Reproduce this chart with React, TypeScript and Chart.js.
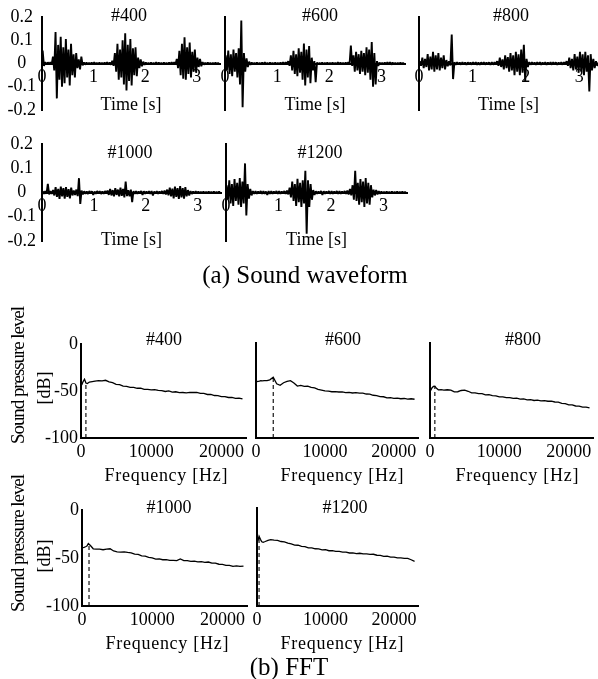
import React, { useEffect, useRef } from 'react';
import { Chart, registerables } from 'chart.js';

Chart.register(...registerables);

const FONT = "'Liberation Serif', 'Times New Roman', serif";

// ---------- Sound waveform data (envelope per 0.05 s bin: upper / lower) ----------
const timeBins = [
  0.025, 0.075, 0.125, 0.175, 0.225, 0.275, 0.325, 0.375, 0.425, 0.475,
  0.525, 0.575, 0.625, 0.675, 0.725, 0.775, 0.825, 0.875, 0.925, 0.975,
  1.025, 1.075, 1.125, 1.175, 1.225, 1.275, 1.325, 1.375, 1.425, 1.475,
  1.525, 1.575, 1.625, 1.675, 1.725, 1.775, 1.825, 1.875, 1.925, 1.975,
  2.025, 2.075, 2.125, 2.175, 2.225, 2.275, 2.325, 2.375, 2.425, 2.475,
  2.525, 2.575, 2.625, 2.675, 2.725, 2.775, 2.825, 2.875, 2.925, 2.975,
  3.025, 3.075, 3.125, 3.175, 3.225, 3.275, 3.325, 3.375, 3.425,
];

const wave400Hi = [
  0.056, 0.006, 0.005, 0.006, 0.03, 0.135, 0.08, 0.115, 0.07, 0.105,
  0.06, 0.085, 0.04, 0.045, 0.018, 0.03, 0.005, 0.004, 0.003, 0.004,
  0.005, 0.003, 0.004, 0.003, 0.004, 0.005, 0.004, 0.012, 0.045, 0.085,
  0.06, 0.1, 0.13, 0.08, 0.105, 0.065, 0.07, 0.025, 0.018, 0.008,
  0.004, 0.003, 0.004, 0.003, 0.005, 0.004, 0.003, 0.004, 0.003, 0.004,
  0.005, 0.006, 0.02, 0.055, 0.085, 0.113, 0.07, 0.09, 0.05, 0.06,
  0.025, 0.02, 0.006, 0.003, 0.004, 0.003, 0.003, 0.004, 0.003,
];
const wave400Lo = [
  -0.01, -0.005, -0.004, -0.005, -0.03, -0.15, -0.07, -0.1, -0.085, -0.06,
  -0.095, -0.05, -0.06, -0.02, -0.025, -0.008, -0.005, -0.004, -0.003, -0.004,
  -0.003, -0.004, -0.003, -0.004, -0.003, -0.004, -0.005, -0.01, -0.035, -0.07,
  -0.06, -0.09, -0.116, -0.075, -0.095, -0.05, -0.055, -0.02, -0.012, -0.006,
  -0.004, -0.003, -0.004, -0.003, -0.004, -0.003, -0.004, -0.003, -0.004, -0.003,
  -0.004, -0.005, -0.02, -0.05, -0.065, -0.07, -0.045, -0.06, -0.035, -0.04,
  -0.015, -0.012, -0.005, -0.003, -0.003, -0.004, -0.003, -0.003, -0.003,
];

const wave600Hi = [
  0.035, 0.056, 0.04, 0.06, 0.045, 0.065, 0.185, 0.045, 0.022, 0.008,
  0.004, 0.003, 0.004, 0.003, 0.004, 0.005, 0.003, 0.004, 0.003, 0.004,
  0.003, 0.004, 0.005, 0.006, 0.01, 0.035, 0.055, 0.04, 0.065, 0.05,
  0.086, 0.06, 0.075, 0.025, 0.01, 0.004, 0.003, 0.004, 0.003, 0.004,
  0.003, 0.004, 0.003, 0.005, 0.004, 0.003, 0.004, 0.005, 0.077, 0.035,
  0.05, 0.04, 0.055, 0.045, 0.07, 0.06, 0.092, 0.045, 0.01, 0.004,
  0.003, 0.004, 0.006, 0.006, 0.004, 0.003, 0.003, 0.004, 0.003,
];
const wave600Lo = [
  -0.03, -0.045, -0.055, -0.035, -0.06, -0.09, -0.188, -0.035, -0.015, -0.006,
  -0.004, -0.003, -0.004, -0.003, -0.004, -0.003, -0.004, -0.003, -0.004, -0.003,
  -0.004, -0.003, -0.004, -0.005, -0.01, -0.03, -0.045, -0.055, -0.04, -0.07,
  -0.095, -0.06, -0.085, -0.03, -0.08, -0.004, -0.003, -0.004, -0.003, -0.004,
  -0.003, -0.004, -0.003, -0.004, -0.003, -0.004, -0.003, -0.004, -0.01, -0.035,
  -0.03, -0.045, -0.035, -0.05, -0.04, -0.07, -0.1, -0.09, -0.01, -0.004,
  -0.003, -0.004, -0.005, -0.005, -0.004, -0.003, -0.003, -0.003, -0.003,
];

const wave800Hi = [
  0.01, 0.025, 0.02, 0.04, 0.03, 0.05, 0.035, 0.045, 0.025, 0.035,
  0.015, 0.01, 0.125, 0.005, 0.005, 0.004, 0.006, 0.004, 0.005, 0.004,
  0.006, 0.005, 0.004, 0.005, 0.006, 0.004, 0.005, 0.006, 0.005, 0.01,
  0.025, 0.018, 0.035, 0.028, 0.045, 0.035, 0.05, 0.04, 0.06, 0.08,
  0.02, 0.006, 0.005, 0.004, 0.005, 0.006, 0.004, 0.005, 0.004, 0.005,
  0.006, 0.005, 0.004, 0.005, 0.006, 0.01, 0.025, 0.02, 0.04, 0.03,
  0.05, 0.04, 0.05, 0.035, 0.04, 0.02, 0.01, 0.004, 0.004,
];
const wave800Lo = [
  -0.01, -0.02, -0.015, -0.03, -0.025, -0.035, -0.025, -0.03, -0.02, -0.025,
  -0.012, -0.008, -0.067, -0.005, -0.004, -0.005, -0.004, -0.006, -0.004, -0.005,
  -0.004, -0.005, -0.006, -0.004, -0.005, -0.004, -0.006, -0.005, -0.004, -0.01,
  -0.015, -0.025, -0.02, -0.035, -0.03, -0.05, -0.035, -0.05, -0.04, -0.075,
  -0.015, -0.005, -0.004, -0.005, -0.004, -0.006, -0.004, -0.005, -0.004, -0.005,
  -0.004, -0.006, -0.004, -0.005, -0.004, -0.01, -0.02, -0.03, -0.025, -0.04,
  -0.035, -0.05, -0.035, -0.12, -0.03, -0.02, -0.01, -0.004, -0.004,
];

const wave1000Hi = [
  0.005, 0.006, 0.036, 0.006, 0.01, 0.022, 0.015, 0.024, 0.018, 0.022,
  0.014, 0.02, 0.008, 0.012, 0.059, 0.008, 0.005, 0.004, 0.006, 0.005,
  0.004, 0.006, 0.005, 0.004, 0.006, 0.008, 0.015, 0.01, 0.018, 0.012,
  0.02, 0.015, 0.045, 0.01, 0.012, 0.006, 0.005, 0.004, 0.006, 0.005,
  0.004, 0.005, 0.006, 0.004, 0.005, 0.004, 0.006, 0.008, 0.012, 0.02,
  0.016, 0.024, 0.018, 0.026, 0.018, 0.022, 0.01, 0.006, 0.004, 0.005,
  0.004, 0.003, 0.004, 0.003, 0.004, 0.003, 0.004, 0.003, 0.004,
];
const wave1000Lo = [
  -0.005, -0.005, -0.008, -0.006, -0.012, -0.018, -0.026, -0.016, -0.025, -0.018,
  -0.024, -0.012, -0.01, -0.015, -0.047, -0.008, -0.005, -0.006, -0.004, -0.01,
  -0.005, -0.004, -0.006, -0.005, -0.004, -0.01, -0.012, -0.016, -0.01, -0.016,
  -0.014, -0.02, -0.015, -0.016, -0.04, -0.006, -0.005, -0.004, -0.01, -0.005,
  -0.004, -0.005, -0.012, -0.004, -0.005, -0.004, -0.006, -0.008, -0.012, -0.016,
  -0.024, -0.018, -0.026, -0.02, -0.025, -0.016, -0.012, -0.006, -0.004, -0.004,
  -0.003, -0.003, -0.004, -0.003, -0.003, -0.003, -0.004, -0.003, -0.003,
];

const wave1200Hi = [
  0.03, 0.05, 0.035, 0.055, 0.04, 0.06, 0.045, 0.12, 0.035, 0.015,
  0.006, 0.005, 0.004, 0.006, 0.005, 0.004, 0.006, 0.005, 0.004, 0.006,
  0.005, 0.004, 0.006, 0.008, 0.02, 0.045, 0.035, 0.056, 0.04, 0.05,
  0.09, 0.05, 0.035, 0.01, 0.005, 0.004, 0.006, 0.005, 0.004, 0.006,
  0.005, 0.004, 0.006, 0.005, 0.004, 0.006, 0.008, 0.015, 0.03, 0.09,
  0.04, 0.055, 0.045, 0.06, 0.04, 0.03, 0.012, 0.01, 0.006, 0.004,
  0.003, 0.004, 0.003, 0.004, 0.003, 0.004, 0.003, 0.004, 0.003,
];
const wave1200Lo = [
  -0.03, -0.045, -0.055, -0.035, -0.05, -0.06, -0.045, -0.095, -0.025, -0.012,
  -0.006, -0.005, -0.004, -0.006, -0.005, -0.01, -0.006, -0.005, -0.004, -0.006,
  -0.005, -0.004, -0.006, -0.008, -0.02, -0.035, -0.055, -0.04, -0.06, -0.045,
  -0.17, -0.06, -0.03, -0.01, -0.005, -0.004, -0.01, -0.005, -0.004, -0.006,
  -0.005, -0.004, -0.006, -0.005, -0.004, -0.006, -0.008, -0.012, -0.03, -0.035,
  -0.05, -0.04, -0.06, -0.045, -0.05, -0.02, -0.012, -0.008, -0.005, -0.004,
  -0.003, -0.003, -0.003, -0.004, -0.003, -0.003, -0.003, -0.004, -0.003,
];

const waveXTicks = [0, 1, 2, 3];
const waveYTicks = [-0.2, -0.1, 0, 0.1, 0.2];

// ---------- FFT data ----------
const freqs = [
  100, 300, 500, 700, 900, 1200, 1600, 2000, 2500, 3000,
  3500, 4000, 4500, 5000, 5500, 6000, 6500, 7000, 7500, 8000,
  8500, 9000, 9500, 10000, 10500, 11000, 11500, 12000, 12500, 13000,
  13500, 14000, 14500, 15000, 15500, 16000, 16500, 17000, 17500, 18000,
  18500, 19000, 19500, 20000, 20500, 21000, 21500, 22000, 22500, 23000,
];

const fft400 = [
  -43.5, -40, -37.5, -41.5, -42, -40.5, -40, -39.5, -39, -39.3,
  -38.6, -40.3, -41.2, -42.9, -43.2, -44.9, -45.1, -46.2, -46.2, -47.1,
  -46.9, -48.3, -48.2, -48.8, -48.5, -49.4, -49.6, -50.5, -49.9, -51.1,
  -50.8, -51.8, -51.6, -51.9, -51.4, -51.6, -51.5, -52.6, -52.6, -53.7,
  -53.6, -54.8, -55, -55.9, -56, -56.9, -56.8, -57.8, -57.6, -58.5,
];
const fft600 = [
  -40.7, -40.3, -40.2, -39.6, -39.9, -39.6, -39.5, -38.8, -36, -43,
  -44.5, -41.8, -40.5, -39.6, -42, -45.3, -44.7, -45.6, -45.4, -46.8,
  -47.3, -48.8, -49.5, -50.5, -50.6, -51.3, -51.2, -51.6, -51.5, -52.2,
  -51.9, -52.6, -52.3, -52.8, -52.8, -53.7, -53.8, -55, -55.3, -56.5,
  -56.6, -57.8, -57.6, -58.2, -58.1, -58.7, -58.4, -59, -58.7, -59.2,
];
const fft800 = [
  -50, -47, -45.7, -45.5, -47.5, -49.3, -49.1, -49.7, -49.2, -49.7,
  -51.5, -51.3, -50, -49.7, -50.8, -52.5, -52.4, -53.3, -53.3, -54.6,
  -54.4, -55.3, -55.6, -56.8, -56.7, -57.6, -57.5, -58.3, -58.1, -59,
  -58.8, -59.8, -59.6, -60.5, -60.2, -60.9, -60.6, -61.3, -61.2, -62.1,
  -62.3, -63.5, -63.8, -65.1, -65.1, -66.3, -66.4, -67.5, -67.4, -68.2,
];
const fft1000 = [
  -39.3, -39, -38.3, -37.5, -35, -37, -40.4, -40.8, -40.8, -41.4,
  -40.8, -40.4, -42.7, -43.6, -43.8, -43.7, -44.2, -44.6, -46, -46.3,
  -47.7, -48.1, -49.3, -49.8, -51.1, -51, -51.8, -51.6, -52.5, -52.4,
  -52.7, -51, -52.8, -52.8, -53.6, -53.3, -54.1, -53.8, -54.5, -54.2,
  -55.3, -55.4, -56.5, -56.6, -57.6, -57.6, -58.8, -58.3, -58.8, -58.5,
];
const fft1200 = [
  -34, -28.8, -32, -34.5, -35, -34.2, -33, -32.3, -32.7, -33,
  -34.2, -34.6, -35.9, -36.6, -37.8, -38, -39.1, -39.4, -40.7, -40.6,
  -41.6, -41.8, -42.7, -42.6, -43.6, -43.4, -44.3, -44.3, -45, -45,
  -45.9, -45.7, -46.5, -46.2, -46.9, -46.8, -47.4, -47.2, -48.2, -48.3,
  -49.3, -49.2, -50.1, -50.1, -50.9, -50.8, -51.5, -51.4, -52.8, -54.4,
];

// peak frequency (dashed marker) and its level, per sample: #400, #600, #800, #1000, #1200
const peakFreq = [700, 2500, 700, 1000, 300];
const peakLevel = [-41.5, -36.5, -45.5, -36, -29];

const fftXTicks = [0, 10000, 20000];
const fftYTicks = [-100, -50, 0];

// ---------- chart builders ----------
type Area = { l: number; t: number; r: number; b: number };
type Box = { left: number; top: number; width: number; height: number; config: any };

const tickFont = { family: FONT, size: 18 };
const HALF_BIN = 0.0125;

function waveBox(area: Area, hi: number[], lo: number[], tMax: number, showY: boolean, titleGap: number): Box {
  const padT = 20, padR = 10, padB = 20;
  const yW = showY ? area.l : 10;
  const left = area.l - yW;
  const top = area.t - padT;
  const width = yW + (area.r - area.l) + padR;
  const height = padT + (area.b - area.t) + padB;
  // each bin drawn as an up/down stroke: its upper peak, then its lower peak
  const pts: { x: number; y: number }[] = [];
  timeBins.forEach((t, i) => {
    pts.push({ x: t - HALF_BIN, y: hi[i] });
    pts.push({ x: t + HALF_BIN, y: lo[i] });
  });
  const config = {
    type: 'line',
    data: {
      datasets: [
        {
          data: pts,
          borderColor: '#000',
          borderWidth: 1.9,
          borderJoinStyle: 'bevel',
          pointRadius: 0,
          tension: 0,
        },
      ],
    },
    options: {
      animation: false,
      responsive: false,
      devicePixelRatio: 1,
      layout: { padding: { left: 0, top: padT, right: padR, bottom: padB } },
      plugins: { legend: { display: false }, tooltip: { enabled: false } },
      scales: {
        x: {
          type: 'linear',
          position: { y: 0 },
          min: 0,
          max: tMax,
          offset: false,
          grid: { display: false, drawTicks: false, offset: false },
          border: { display: true, color: '#000', width: 2 },
          afterBuildTicks: (s: any) => { s.ticks = waveXTicks.map((v) => ({ value: v })); },
          ticks: { font: tickFont, color: '#000', padding: 3, maxRotation: 0, autoSkip: false, callback: (v: any) => String(v) },
          title: { display: true, text: 'Time [s]', font: tickFont, color: '#000', padding: 0 },
          afterFit: (s: any) => { s.height = titleGap + 10.8; },
        },
        y: {
          type: 'linear',
          min: -0.2,
          max: 0.2,
          grid: { display: false, drawTicks: false },
          border: { display: true, color: '#000', width: 2 },
          afterBuildTicks: (s: any) => { s.ticks = waveYTicks.map((v) => ({ value: v })); },
          ticks: { display: showY, autoSkip: false, font: tickFont, color: '#000', padding: 6, crossAlign: 'center', callback: (v: any) => String(v) },
          afterFit: (s: any) => { s.width = yW; },
        },
      },
    },
  };
  return { left, top, width, height, config };
}

function fftBox(area: Area, values: number[], idx: number, showY: boolean): Box {
  const padT = 20, padR = 10, padB = 4, xH = 50;
  const yW = showY ? 45 : 10;
  const left = area.l - yW;
  const top = area.t - padT;
  const width = yW + (area.r - area.l) + padR;
  const height = padT + (area.b - area.t) + xH + padB;
  const config = {
    type: 'line',
    data: {
      datasets: [
        {
          data: freqs.map((f, i) => ({ x: f, y: values[i] })),
          borderColor: '#000',
          borderWidth: 1.3,
          pointRadius: 0,
          tension: 0,
        },
        {
          data: [
            { x: peakFreq[idx], y: -100 },
            { x: peakFreq[idx], y: peakLevel[idx] },
          ],
          borderColor: '#000',
          borderWidth: 1.1,
          borderDash: [4, 3],
          pointRadius: 0,
        },
      ],
    },
    options: {
      animation: false,
      responsive: false,
      devicePixelRatio: 1,
      layout: { padding: { left: 0, top: padT, right: padR, bottom: padB } },
      plugins: { legend: { display: false }, tooltip: { enabled: false } },
      scales: {
        x: {
          type: 'linear',
          min: 0,
          max: 23500,
          grid: { display: false, drawTicks: false },
          border: { display: true, color: '#000', width: 2 },
          afterBuildTicks: (s: any) => { s.ticks = fftXTicks.map((v) => ({ value: v })); },
          ticks: { font: tickFont, color: '#000', padding: 3, maxRotation: 0, autoSkip: false, callback: (v: any) => String(v) },
          afterFit: (s: any) => { s.height = xH; },
        },
        y: {
          type: 'linear',
          min: -100,
          max: 0,
          grid: { display: false, drawTicks: false },
          border: { display: true, color: '#000', width: 2 },
          afterBuildTicks: (s: any) => { s.ticks = fftYTicks.map((v) => ({ value: v })); },
          ticks: { display: showY, autoSkip: false, font: tickFont, color: '#000', padding: 3, callback: (v: any) => String(v) },
          afterFit: (s: any) => { s.width = yW; },
        },
      },
    },
  };
  return { left, top, width, height, config };
}

function ChartCanvas({ box }: { box: Box }) {
  const ref = useRef<HTMLCanvasElement>(null);
  useEffect(() => {
    if (!ref.current) return;
    const chart = new Chart(ref.current, box.config);
    return () => chart.destroy();
  }, []);
  return (
    <canvas
      ref={ref}
      width={box.width}
      height={box.height}
      style={{ position: 'absolute', left: box.left, top: box.top, width: box.width, height: box.height }}
    />
  );
}

type Txt = { x: number; y: number; size: number; text: string; rotate?: boolean; len?: number };

const texts: Txt[] = [
  { x: 129, y: 15, size: 18, text: '#400' },
  { x: 320, y: 15, size: 18, text: '#600' },
  { x: 511, y: 15, size: 18, text: '#800' },
  { x: 130, y: 152, size: 18, text: '#1000' },
  { x: 320, y: 152, size: 18, text: '#1200' },
  { x: 305, y: 274, size: 25, text: '(a) Sound waveform' },
  { x: 164, y: 339, size: 18, text: '#400' },
  { x: 343, y: 339, size: 18, text: '#600' },
  { x: 523, y: 339, size: 18, text: '#800' },
  { x: 169, y: 507, size: 18, text: '#1000' },
  { x: 345, y: 507, size: 18, text: '#1200' },
  { x: 166, y: 475, size: 18, text: 'Frequency [Hz]', len: 123 },
  { x: 342, y: 475, size: 18, text: 'Frequency [Hz]', len: 123 },
  { x: 517, y: 475, size: 18, text: 'Frequency [Hz]', len: 123 },
  { x: 167, y: 643, size: 18, text: 'Frequency [Hz]', len: 123 },
  { x: 342, y: 643, size: 18, text: 'Frequency [Hz]', len: 123 },
  { x: 17, y: 375, size: 19, text: 'Sound pressure level', rotate: true, len: 138 },
  { x: 44, y: 388, size: 18, text: '[dB]', rotate: true },
  { x: 17, y: 543, size: 19, text: 'Sound pressure level', rotate: true, len: 138 },
  { x: 44, y: 556, size: 18, text: '[dB]', rotate: true },
  { x: 289, y: 666, size: 25, text: '(b) FFT' },
];

export default function App() {
  const boxes: Box[] = [
    waveBox({ l: 42, t: 16.5, r: 220, b: 109.5 }, wave400Hi, wave400Lo, 3.45, true, 42),
    waveBox({ l: 225, t: 16.5, r: 405, b: 109.5 }, wave600Hi, wave600Lo, 3.45, false, 42),
    waveBox({ l: 419, t: 16.5, r: 598, b: 109.5 }, wave800Hi, wave800Lo, 3.35, false, 42),
    waveBox({ l: 42, t: 143.5, r: 221, b: 240.5 }, wave1000Hi, wave1000Lo, 3.45, true, 48),
    waveBox({ l: 226, t: 143.5, r: 407, b: 240.5 }, wave1200Hi, wave1200Lo, 3.45, false, 48),
    fftBox({ l: 81, t: 344, r: 246, b: 438 }, fft400, 0, true),
    fftBox({ l: 256, t: 342.5, r: 418, b: 438 }, fft600, 1, false),
    fftBox({ l: 430, t: 342.5, r: 593, b: 438 }, fft800, 2, false),
    fftBox({ l: 82, t: 510, r: 247, b: 606 }, fft1000, 3, true),
    fftBox({ l: 257, t: 508, r: 418, b: 606 }, fft1200, 4, false),
  ];

  return (
    <div
      style={{
        position: 'absolute',
        left: 0,
        top: 0,
        width: 598,
        height: 679,
        background: '#fff',
        overflow: 'hidden',
      }}
    >
      {boxes.map((b, i) => (
        <ChartCanvas key={i} box={b} />
      ))}
      <svg
        width={598}
        height={679}
        style={{ position: 'absolute', left: 0, top: 0, pointerEvents: 'none' }}
      >
        {texts.map((t, i) => (
          <text
            key={i}
            x={t.x}
            y={t.y}
            fontFamily={FONT}
            fontSize={t.size}
            fill="#000"
            textAnchor="middle"
            dominantBaseline="central"
            transform={t.rotate ? `rotate(-90 ${t.x} ${t.y})` : undefined}
            {...(t.len ? { textLength: t.len, lengthAdjust: 'spacing' } : {})}
          >
            {t.text}
          </text>
        ))}
      </svg>
    </div>
  );
}
